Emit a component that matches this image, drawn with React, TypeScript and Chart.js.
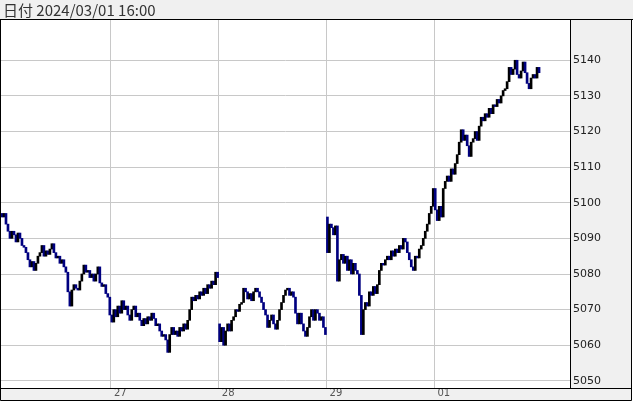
import React, { useEffect, useRef } from 'react';
import { Chart, registerables } from 'chart.js';

Chart.register(...registerables);

// closes (one value per ~2px column)
const CLOSES: number[] = [
  5096, 5097, 5094, 5092, 5090, 5092, 5091, 5089, 5091.5, 5090,
  5088, 5087.5, 5086, 5084, 5082, 5083.5, 5081, 5083, 5085, 5086,
  5088, 5085, 5086.5, 5085.5, 5087, 5088.5, 5086, 5084.5, 5085, 5083,
  5084, 5082, 5080.5, 5075, 5071, 5075.5, 5077, 5076, 5075.5, 5078,
  5080, 5082.5, 5080.5, 5081, 5079, 5080, 5078, 5080, 5082, 5077.5,
  5076.5, 5077, 5074.5, 5073.5, 5068.5, 5066.5, 5070, 5068, 5071, 5069,
  5072.5, 5070, 5071, 5068.5, 5067, 5070, 5071, 5068, 5069, 5067,
  5065.5, 5067.5, 5066, 5068, 5067, 5069, 5067.5, 5065.5, 5066, 5064,
  5062.5, 5063, 5061.5, 5058, 5063, 5065, 5063, 5064, 5062.5, 5065,
  5064, 5066, 5064.5, 5067, 5070, 5073.5, 5072.5, 5074, 5073, 5075,
  5074, 5076, 5074.5, 5077, 5076, 5078, 5077, 5080.5, 5079,
  5061, 5065, 5060, 5064, 5066, 5064, 5067, 5068, 5070, 5069.5, 5071.5,
  5072, 5076, 5075, 5073, 5074.5, 5072.5, 5075, 5076, 5075, 5073.5,
  5072, 5070, 5068.5, 5065, 5067, 5068.5, 5066, 5064.5, 5067, 5070,
  5072, 5074, 5075.5, 5076, 5074, 5075, 5073.5, 5069, 5066, 5069,
  5066, 5064, 5062.5, 5065, 5068, 5070, 5067, 5070, 5069, 5067, 5068, 5065, 5063,
  5086, 5094, 5093, 5091, 5093.5, 5078, 5084,
  5085.5, 5083, 5085, 5081, 5084, 5080, 5083, 5081, 5080, 5074,
  5063, 5070, 5072, 5071, 5075, 5074, 5076.5, 5074.5, 5077, 5081,
  5083, 5082.5, 5084, 5085, 5084, 5086.5, 5085, 5087, 5086, 5088,
  5087, 5090, 5089, 5086, 5084, 5082, 5081, 5085, 5084.5, 5087,
  5088, 5090, 5092, 5094, 5097, 5099, 5104,
  5098, 5095, 5099, 5096, 5104, 5106, 5107.5, 5106, 5109.5, 5108, 5111, 5113.5, 5117,
  5120.5, 5117.5, 5119, 5116, 5113, 5117, 5118, 5120, 5117.5, 5121.5,
  5124, 5123, 5125, 5124, 5126.5, 5125, 5127.5, 5127, 5129, 5128,
  5130, 5131.5, 5132, 5134, 5138, 5136, 5137.5, 5140, 5136, 5135,
  5137, 5139.5, 5136.5, 5133.5, 5132, 5135, 5136, 5135, 5138, 5136.5,
];

// bars that open a new session (gap from previous close) and their opening prices
const SESSION_STARTS: number[] = [0, 109, 163];
const SESSION_OPENS: number[] = [5097, 5066, 5096];

const DAY_TICKS: number[] = [54.5, 108.5, 162.5, 216.5];
const DAY_LABELS: string[] = ['27', '28', '29', '01'];

const Y_TICKS: number[] = [5050, 5060, 5070, 5080, 5090, 5100, 5110, 5120, 5130, 5140];
const Y_MIN = 5048;
const Y_MAX = 5151.3;
const X_MIN = -0.5;
const X_MAX = 284.5;

const HEADER_TEXT = '日付 2024/03/01 16:00';

const UP_COLOR = '#000000';
const DOWN_COLOR = '#000080';
const PANEL = '#f0f0f0';
const GRID = '#c8c8c8';

const W = 634;
const H = 401;

const framePlugin = {
  id: 'frame',
  beforeDraw(chart: any) {
    const { ctx, chartArea } = chart;
    ctx.save();
    ctx.fillStyle = '#ffffff';
    ctx.fillRect(0, 0, W, H);
    ctx.fillStyle = PANEL;
    ctx.fillRect(0, 0, W - 1, chartArea.top);
    ctx.fillRect(chartArea.right, chartArea.top, W - 2 - chartArea.right, chartArea.bottom - chartArea.top);
    ctx.fillRect(0, chartArea.bottom, W - 2, H - chartArea.bottom);
    ctx.restore();
  },
  afterDraw(chart: any) {
    const { ctx, chartArea } = chart;
    ctx.save();
    ctx.strokeStyle = '#000000';
    ctx.lineWidth = 1;
    ctx.beginPath();
    ctx.rect(0.5, chartArea.top - 0.5, W - 3, H - chartArea.top);
    ctx.moveTo(0, chartArea.top - 0.5);
    ctx.lineTo(W - 1, chartArea.top - 0.5);
    ctx.moveTo(chartArea.right + 0.5, chartArea.top - 0.5);
    ctx.lineTo(chartArea.right + 0.5, chartArea.bottom);
    ctx.moveTo(0, chartArea.bottom + 0.5);
    ctx.lineTo(W - 2, chartArea.bottom + 0.5);
    ctx.stroke();
    ctx.fillStyle = '#333333';
    ctx.font = '15px "Noto Sans CJK JP"';
    ctx.textBaseline = 'middle';
    ctx.textAlign = 'left';
    ctx.fillText(HEADER_TEXT, 3, 10);
    ctx.restore();
  },
};

export default function App() {
  const ref = useRef<HTMLCanvasElement | null>(null);

  useEffect(() => {
    const canvas = ref.current;
    if (!canvas) return;

    const starts = new Map<number, number>();
    SESSION_STARTS.forEach((s, k) => starts.set(s, SESSION_OPENS[k]));

    const points = CLOSES.map((c, i) => {
      const open = starts.has(i) ? (starts.get(i) as number) : CLOSES[i - 1];
      return { x: i, y: [Math.min(open, c), Math.max(open, c)] as [number, number], up: c >= open };
    });
    const colors = points.map((p) => (p.up ? UP_COLOR : DOWN_COLOR));

    const chart = new Chart(canvas, {
      type: 'bar',
      data: {
        datasets: [
          {
            data: points.map((p) => ({ x: p.x, y: p.y })) as any,
            backgroundColor: colors,
            borderWidth: 0,
            barThickness: 2,
            minBarLength: 1,
            grouped: false,
          },
        ],
      },
      options: {
        responsive: false,
        animation: false,
        devicePixelRatio: 1,
        layout: { padding: { left: 1, right: 2, top: 20, bottom: 1 } },
        plugins: {
          legend: { display: false },
          tooltip: { enabled: false },
          title: { display: false },
        },
        scales: {
          x: {
            type: 'linear',
            min: X_MIN,
            max: X_MAX,
            offset: false,
            bounds: 'data',
            afterBuildTicks: (scale: any) => {
              scale.ticks = DAY_TICKS.map((v) => ({ value: v }));
            },
            afterFit: (scale: any) => {
              scale.height = 12;
            },
            grid: { color: GRID, lineWidth: 1, drawTicks: false, offset: false },
            border: { display: false },
            ticks: {
              autoSkip: false,
              maxRotation: 0,
              minRotation: 0,
              align: 'start',
              padding: 0,
              color: '#555555',
              font: { family: 'DejaVu Sans', size: 10, lineHeight: 1.1 },
              callback: (v: any) => {
                const k = DAY_TICKS.indexOf(Number(v));
                return k >= 0 ? ' ' + DAY_LABELS[k] : '';
              },
            },
          },
          y: {
            type: 'linear',
            position: 'right',
            min: Y_MIN,
            max: Y_MAX,
            afterBuildTicks: (scale: any) => {
              scale.ticks = Y_TICKS.map((v) => ({ value: v }));
            },
            afterFit: (scale: any) => {
              scale.width = 62;
            },
            grid: { color: GRID, lineWidth: 1, drawTicks: false },
            border: { display: false },
            ticks: {
              padding: 3,
              color: '#222222',
              font: { family: 'DejaVu Sans', size: 11 },
              callback: (v: any) => String(v),
            },
          },
        },
      },
      plugins: [framePlugin],
    });

    return () => chart.destroy();
  }, []);

  return (
    <div style={{ position: 'absolute', left: 0, top: 0, width: W, height: H }}>
      <canvas ref={ref} width={W} height={H} style={{ display: 'block' }} />
    </div>
  );
}
